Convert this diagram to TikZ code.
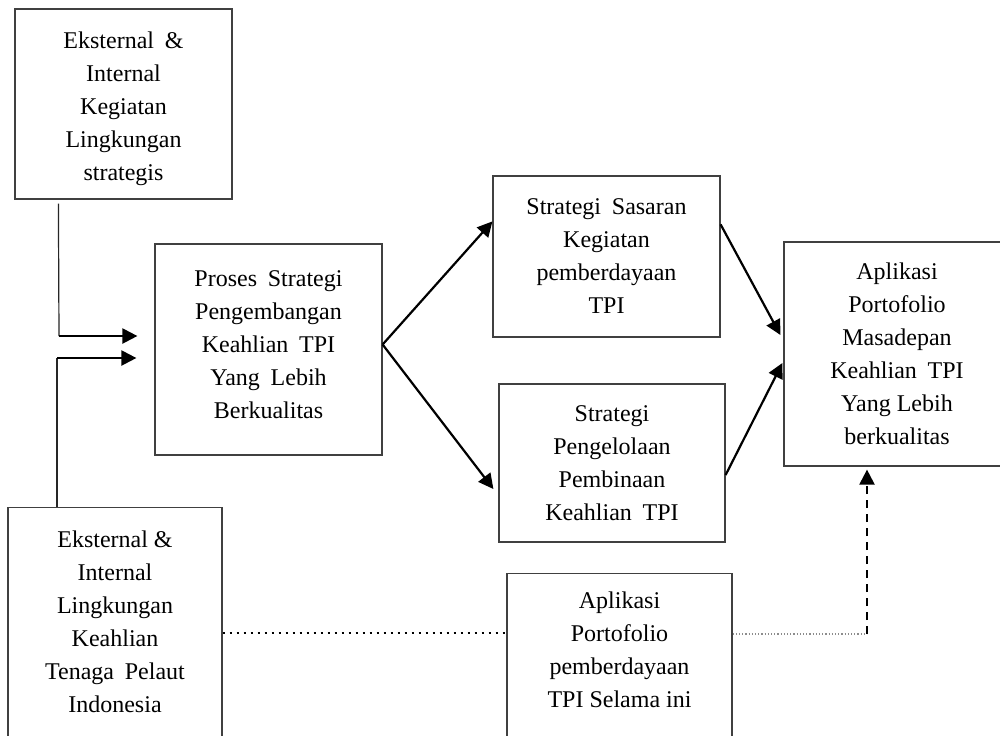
\documentclass[tikz,border=0pt]{standalone}
\usepackage{fontspec}
\setmainfont{Liberation Serif}
\usepackage{tikz}
\usetikzlibrary{arrows.meta,calc}

\newcommand{\gap}{\hspace{0.45em}}

\begin{document}
\begin{tikzpicture}[
    x=0.5pt, y=-0.5pt,
    font=\fontsize{12}{16.5}\selectfont,
    >={Triangle[length=7.5pt,width=7.5pt]},
    block/.style={draw=black!75, line width=0.6pt, rectangle, align=center, inner xsep=4pt, inner ysep=9pt},
    link/.style={->, line width=1.1pt},
    thinline/.style={draw=black!85, line width=0.6pt},
    dotline/.style={line width=1.3pt, dash pattern=on 1.2pt off 2.3pt}
]

% 画布
\useasboundingbox (0,0) rectangle (1000,735);
\fill[white] (0,0) rectangle (1000,735);
\clip (0,0) rectangle (1000,735);

% 外部与内部(上)
\node[block, inner ysep=4pt, minimum width=108.5pt, minimum height=95pt] (ext1) at (123.5,104) {\rule{0pt}{13pt}Eksternal\gap\&\\Internal\\Kegiatan\\Lingkungan\\strategis};

% 过程策略
\node[block, minimum width=113.5pt, minimum height=105.5pt] (proc) at (268.5,349.5) {Proses\gap Strategi\\Pengembangan\\Keahlian\gap TPI\\Yang\gap Lebih\\Berkualitas\rule[-5pt]{0pt}{5pt}};

% 目标策略
\node[block, minimum width=113.5pt, minimum height=80.5pt] (target) at (606.5,256.5) {Strategi\gap Sasaran\\Kegiatan\\pemberdayaan\\TPI};

% 管理策略
\node[block, minimum width=113pt, minimum height=79pt] (manage) at (612,463) {Strategi\\Pengelolaan\\Pembinaan\\Keahlian\gap TPI};

% 未来组合
\node[block, minimum width=113pt, minimum height=112pt] (future) at (897,354) {Aplikasi\\Portofolio\\Masadepan\\Keahlian\gap TPI\\Yang Lebih\\berkualitas};

% 外部与内部(下)
\node[block, anchor=north, minimum width=107pt] (ext2) at (115,507) {\rule{0pt}{11pt}Eksternal \&\\Internal\\Lingkungan\\Keahlian\\Tenaga\gap Pelaut\\Indonesia\rule[-20pt]{0pt}{20pt}};

% 现有组合
\node[block, anchor=north, minimum width=112.5pt] (current) at (619.5,573) {Aplikasi\\Portofolio\\pemberdayaan\\TPI Selama ini\rule[-20pt]{0pt}{20pt}};

% 输入线
\coordinate (in1) at (59,336);
\coordinate (in2) at (57,358);
\draw[thinline] ($(ext1.south west)+(44,4)$) -- (in1);
\draw[link, shorten >=8.5pt] (in1) -- (in1 -| proc.west);
\draw[thinline] (ext2.north -| in2) -- (in2);
\draw[link, shorten >=9pt] (in2) -- (in2 -| proc.west);

% 连接箭头
\draw[link] ($(proc.east)+(0,-5)$) -- ($(target.north west)+(0,46)$);
\draw[link] ($(proc.east)+(0,-5)$) -- ($(manage.west)+(-5,26)$);
\draw[link] ($(target.north east)+(0,49)$) -- ($(future.west)+(-3,-19)$);
\draw[link] ($(manage.east)+(0,12)$) -- ($(future.west)+(-1,9)$);

% 虚线连接
\coordinate (mid) at (0,633);
\coordinate (turn) at (867,634);
\draw[dotline] (ext2.east |- mid) -- (current.west |- mid);
\draw[densely dotted, black!45, line width=0.6pt] (current.east |- turn) -- (turn);
\draw[->, line width=1.1pt, dash pattern=on 4pt off 3pt, shorten >=1.5pt] (turn) -- (turn |- future.south);

\end{tikzpicture}
\end{document}
